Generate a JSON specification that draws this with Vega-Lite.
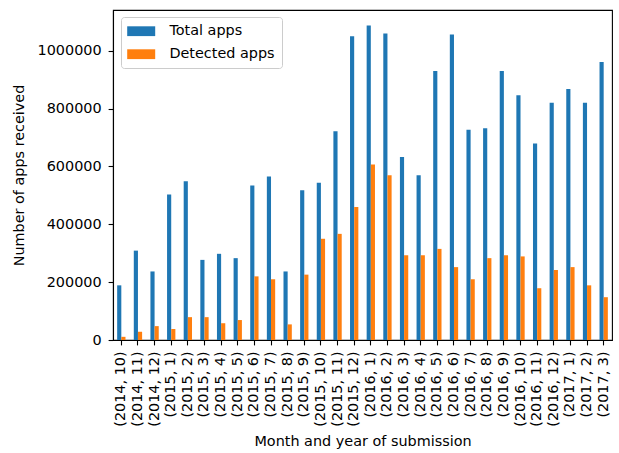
{
  "$schema": "https://vega.github.io/schema/vega-lite/v6.json",
  "width": 499,
  "height": 330,
  "autosize": {"type": "none"},
  "padding": {"left": 113, "top": 10, "right": 7, "bottom": 113},
  "background": "white",
  "config": {
    "font": "DejaVu Sans",
    "view": {"stroke": "black", "strokeWidth": 1.1},
    "axis": {
      "labelFont": "DejaVu Sans",
      "titleFont": "DejaVu Sans",
      "labelFontSize": 14.4,
      "titleFontSize": 14.4,
      "titleFontWeight": "normal",
      "labelColor": "black",
      "titleColor": "black",
      "domainColor": "black",
      "domainWidth": 1.1,
      "tickColor": "black",
      "tickWidth": 1.1,
      "tickSize": 4.9,
      "labelPadding": 6,
      "grid": false
    },
    "legend": {
      "labelFont": "DejaVu Sans",
      "labelFontSize": 14.4,
      "labelColor": "black"
    }
  },
  "data": {
    "values": [
      {"month": "(2014, 10)", "series": "Total apps", "count": 189000},
      {"month": "(2014, 10)", "series": "Detected apps", "count": 11000},
      {"month": "(2014, 11)", "series": "Total apps", "count": 309000},
      {"month": "(2014, 11)", "series": "Detected apps", "count": 28500},
      {"month": "(2014, 12)", "series": "Total apps", "count": 237000},
      {"month": "(2014, 12)", "series": "Detected apps", "count": 48000},
      {"month": "(2015, 1)", "series": "Total apps", "count": 503000},
      {"month": "(2015, 1)", "series": "Detected apps", "count": 38000},
      {"month": "(2015, 2)", "series": "Total apps", "count": 549000},
      {"month": "(2015, 2)", "series": "Detected apps", "count": 79000},
      {"month": "(2015, 3)", "series": "Total apps", "count": 277000},
      {"month": "(2015, 3)", "series": "Detected apps", "count": 79000},
      {"month": "(2015, 4)", "series": "Total apps", "count": 298000},
      {"month": "(2015, 4)", "series": "Detected apps", "count": 58000},
      {"month": "(2015, 5)", "series": "Total apps", "count": 283000},
      {"month": "(2015, 5)", "series": "Detected apps", "count": 69000},
      {"month": "(2015, 6)", "series": "Total apps", "count": 534000},
      {"month": "(2015, 6)", "series": "Detected apps", "count": 220000},
      {"month": "(2015, 7)", "series": "Total apps", "count": 565000},
      {"month": "(2015, 7)", "series": "Detected apps", "count": 210000},
      {"month": "(2015, 8)", "series": "Total apps", "count": 237000},
      {"month": "(2015, 8)", "series": "Detected apps", "count": 54000},
      {"month": "(2015, 9)", "series": "Total apps", "count": 518000},
      {"month": "(2015, 9)", "series": "Detected apps", "count": 226000},
      {"month": "(2015, 10)", "series": "Total apps", "count": 544000},
      {"month": "(2015, 10)", "series": "Detected apps", "count": 350000},
      {"month": "(2015, 11)", "series": "Total apps", "count": 722000},
      {"month": "(2015, 11)", "series": "Detected apps", "count": 367000},
      {"month": "(2015, 12)", "series": "Total apps", "count": 1050000},
      {"month": "(2015, 12)", "series": "Detected apps", "count": 460000},
      {"month": "(2016, 1)", "series": "Total apps", "count": 1087000},
      {"month": "(2016, 1)", "series": "Detected apps", "count": 607000},
      {"month": "(2016, 2)", "series": "Total apps", "count": 1060000},
      {"month": "(2016, 2)", "series": "Detected apps", "count": 570000},
      {"month": "(2016, 3)", "series": "Total apps", "count": 633000},
      {"month": "(2016, 3)", "series": "Detected apps", "count": 293000},
      {"month": "(2016, 4)", "series": "Total apps", "count": 570000},
      {"month": "(2016, 4)", "series": "Detected apps", "count": 293000},
      {"month": "(2016, 5)", "series": "Total apps", "count": 930000},
      {"month": "(2016, 5)", "series": "Detected apps", "count": 315000},
      {"month": "(2016, 6)", "series": "Total apps", "count": 1056000},
      {"month": "(2016, 6)", "series": "Detected apps", "count": 252000},
      {"month": "(2016, 7)", "series": "Total apps", "count": 727000},
      {"month": "(2016, 7)", "series": "Detected apps", "count": 210000},
      {"month": "(2016, 8)", "series": "Total apps", "count": 732000},
      {"month": "(2016, 8)", "series": "Detected apps", "count": 283000},
      {"month": "(2016, 9)", "series": "Total apps", "count": 930000},
      {"month": "(2016, 9)", "series": "Detected apps", "count": 293000},
      {"month": "(2016, 10)", "series": "Total apps", "count": 846000},
      {"month": "(2016, 10)", "series": "Detected apps", "count": 289000},
      {"month": "(2016, 11)", "series": "Total apps", "count": 679000},
      {"month": "(2016, 11)", "series": "Detected apps", "count": 179000},
      {"month": "(2016, 12)", "series": "Total apps", "count": 820000},
      {"month": "(2016, 12)", "series": "Detected apps", "count": 242000},
      {"month": "(2017, 1)", "series": "Total apps", "count": 868000},
      {"month": "(2017, 1)", "series": "Detected apps", "count": 252000},
      {"month": "(2017, 2)", "series": "Total apps", "count": 820000},
      {"month": "(2017, 2)", "series": "Detected apps", "count": 189000},
      {"month": "(2017, 3)", "series": "Total apps", "count": 961000},
      {"month": "(2017, 3)", "series": "Detected apps", "count": 148000}
    ]
  },
  "mark": {"type": "bar"},
  "encoding": {
    "x": {
      "field": "month",
      "type": "nominal",
      "sort": null,
      "scale": {"paddingInner": 0.5, "paddingOuter": 0.25},
      "axis": {
        "title": "Month and year of submission",
        "labelAngle": -90,
        "labelPadding": 6,
        "titlePadding": 8
      }
    },
    "xOffset": {
      "field": "series",
      "type": "nominal",
      "sort": ["Total apps", "Detected apps"],
      "scale": {"paddingInner": 0, "paddingOuter": 0}
    },
    "y": {
      "field": "count",
      "type": "quantitative",
      "scale": {"domain": [0, 1141000], "nice": false},
      "axis": {
        "title": "Number of apps received",
        "values": [0, 200000, 400000, 600000, 800000, 1000000],
        "format": "d",
        "labelPadding": 7,
        "titlePadding": 11
      }
    },
    "color": {
      "field": "series",
      "type": "nominal",
      "scale": {"domain": ["Total apps", "Detected apps"], "range": ["#1f77b4", "#ff7f0e"]},
      "legend": {
        "title": null,
        "orient": "none",
        "legendX": 8,
        "legendY": 7,
        "padding": 7,
        "strokeColor": "#cccccc",
        "fillColor": "white",
        "cornerRadius": 3,
        "symbolType": "M-2,-0.7L2,-0.7L2,0.7L-2,0.7Z",
        "symbolSize": 196,
        "symbolStrokeWidth": 0,
        "symbolOpacity": 1,
        "symbolOffset": 6,
        "labelOffset": 21,
        "rowPadding": 8,
        "labelLimit": 300
      }
    }
  }
}
